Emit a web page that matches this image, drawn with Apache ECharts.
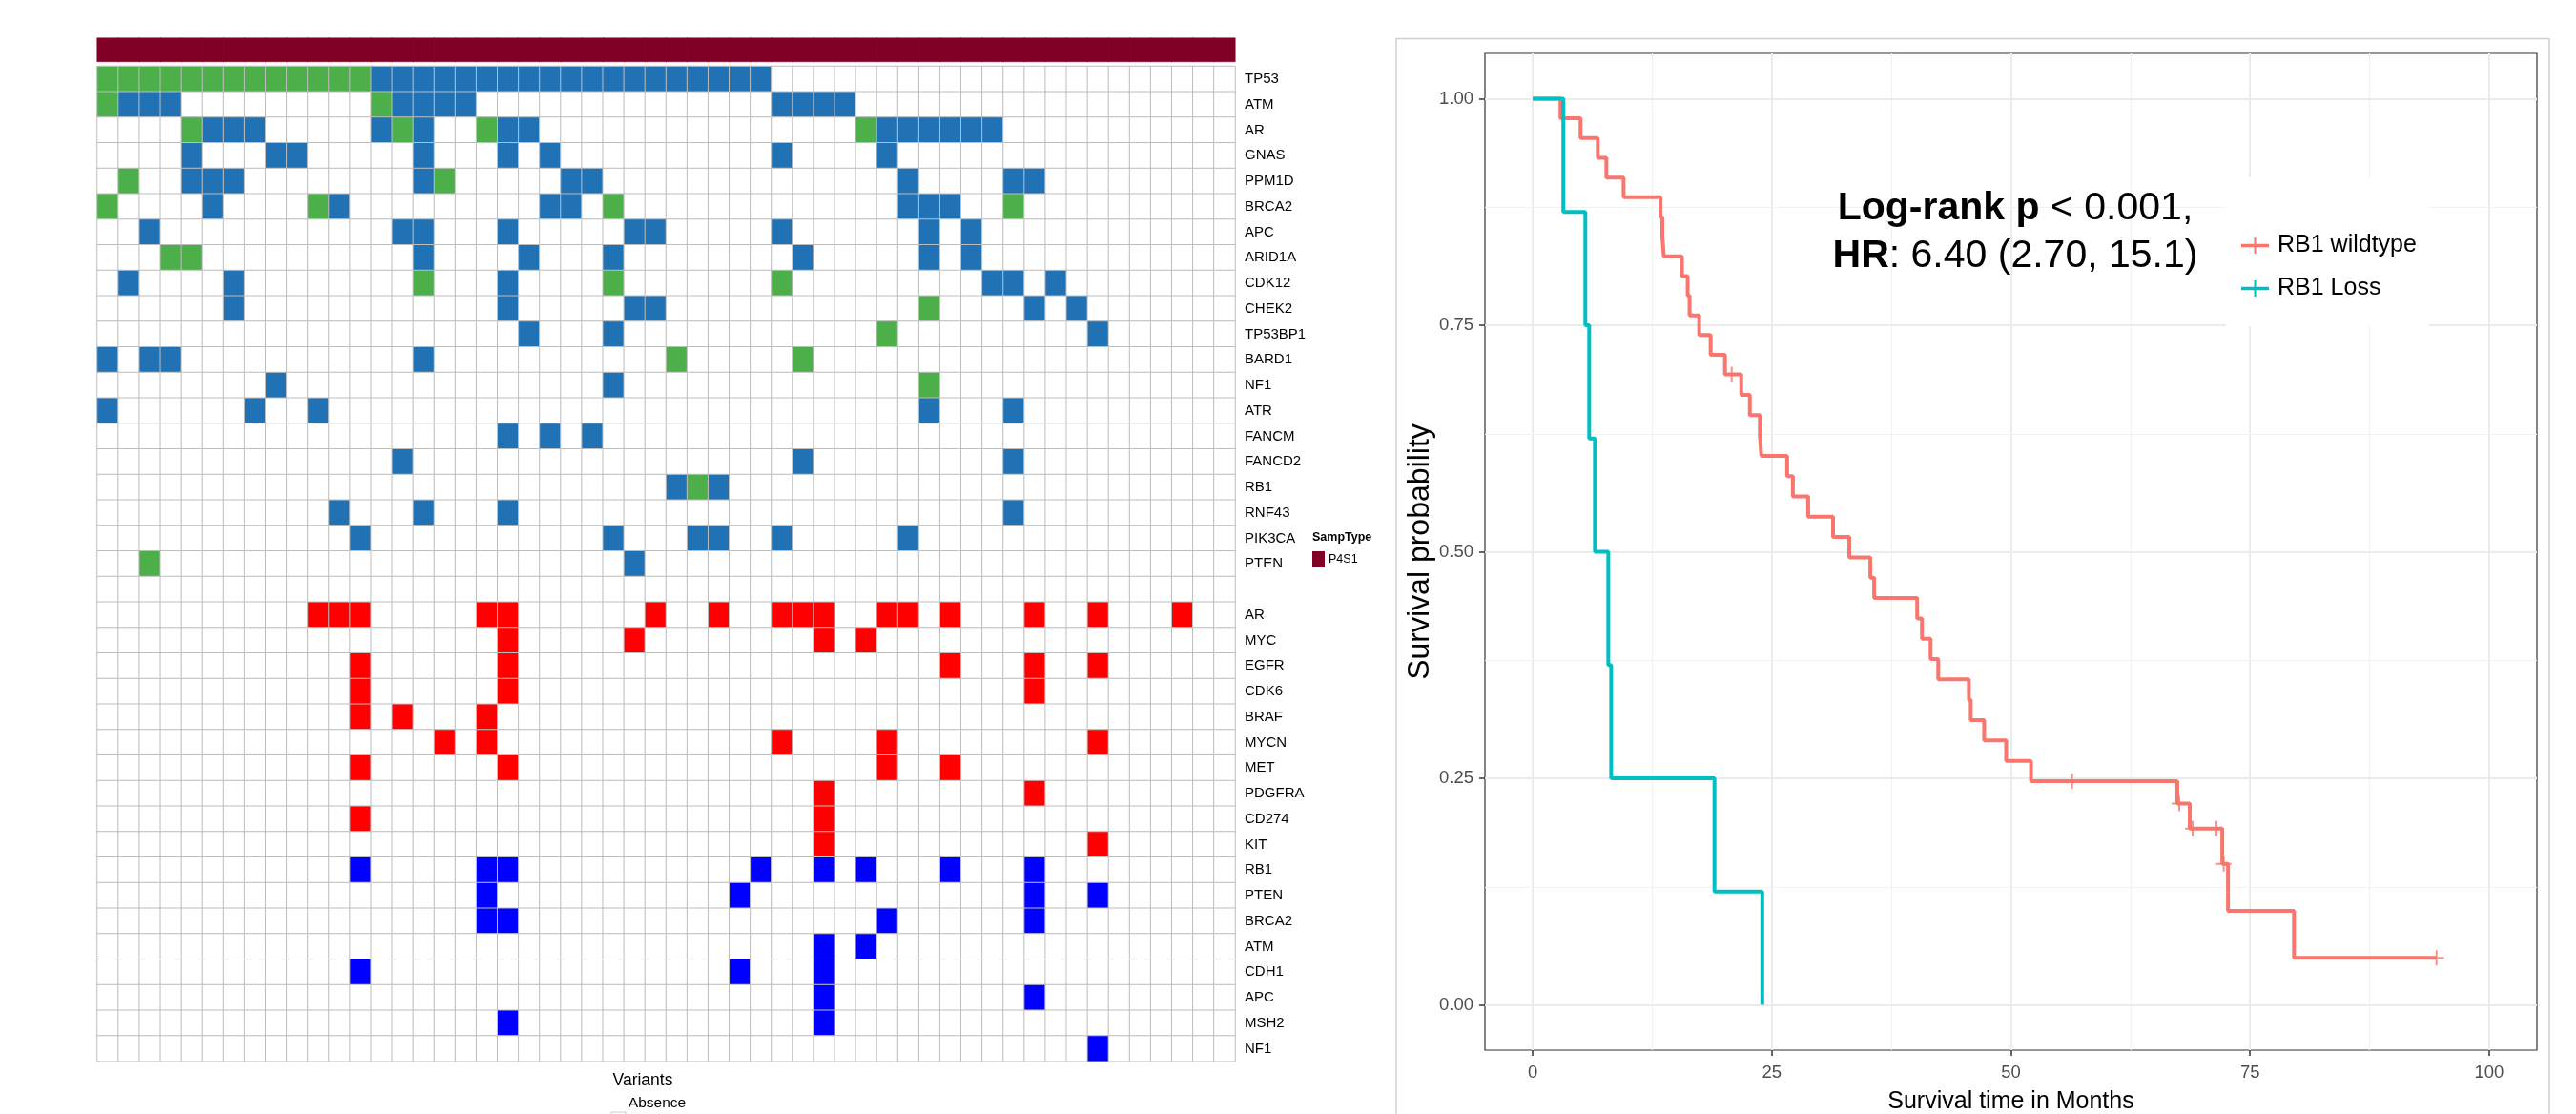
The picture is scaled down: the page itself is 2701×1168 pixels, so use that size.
<!DOCTYPE html>
<html><head><meta charset="utf-8">
<script src="https://cdn.jsdelivr.net/npm/echarts@6/dist/echarts.min.js"></script>
<style>html,body{margin:0;padding:0;background:#fff}#c{width:2701px;height:1168px}</style>
</head><body><div id="c"></div>
<script>
// ---------------- Oncoprint data ----------------
const sampleCount = 54;
const sampleIds = Array.from({length: sampleCount}, (_, i) => 'S' + (i + 1));
const sampType = 'P4S1';

const mutGenes = ['TP53','ATM','AR','GNAS','PPM1D','BRCA2','APC','ARID1A','CDK12','CHEK2','TP53BP1','BARD1','NF1','ATR','FANCM','FANCD2','RB1','RNF43','PIK3CA','PTEN'];
// columns with a "green" mutation call, one list per gene
const mutGreen = [
  [0,1,2,3,4,5,6,7,8,9,10,11,12],
  [0,13],
  [4,14,18,36],
  [],
  [1,16],
  [0,10,24,43],
  [],
  [3,4],
  [15,24,32],
  [39],
  [37],
  [27,33],
  [39],
  [],
  [],
  [],
  [28],
  [],
  [],
  [2]
];
// columns with a "blue" mutation call, one list per gene
const mutBlue = [
  [13,14,15,16,17,18,19,20,21,22,23,24,25,26,27,28,29,30,31],
  [1,2,3,14,15,16,17,32,33,34,35],
  [5,6,7,13,15,19,20,37,38,39,40,41,42],
  [4,8,9,15,19,21,32,37],
  [4,5,6,15,22,23,38,43,44],
  [5,11,21,22,38,39,40],
  [2,14,15,19,25,26,32,39,41],
  [15,20,24,33,39,41],
  [1,6,19,42,43,45],
  [6,19,25,26,44,46],
  [20,24,47],
  [0,2,3,15],
  [8,24],
  [0,7,10,39,43],
  [19,21,23],
  [14,33,43],
  [27,29],
  [11,15,19,43],
  [12,24,28,29,32,38],
  [25]
];

const cnvGenes = ['AR','MYC','EGFR','CDK6','BRAF','MYCN','MET','PDGFRA','CD274','KIT','RB1','PTEN','BRCA2','ATM','CDH1','APC','MSH2','NF1'];
// amplification (red) columns
const cnvAmp = [
  [10,11,12,18,19,26,29,32,33,34,37,38,40,44,47,51],
  [19,25,34,36],
  [12,19,40,44,47],
  [12,19,44],
  [12,14,18],
  [16,18,32,37,47],
  [12,19,37,40],
  [34,44],
  [12,34],
  [34,47],
  [],[],[],[],[],[],[],[]
];
// deletion (blue) columns
const cnvDel = [
  [],[],[],[],[],[],[],[],[],[],
  [12,18,19,31,34,36,40,44],
  [18,30,44,47],
  [18,19,37,44],
  [34,36],
  [12,30,34],
  [34,44],
  [19,34],
  [47]
];

// ---------------- Kaplan-Meier data ----------------
const wildTime = [0,2.9,5.0,6.8,7.7,9.5,13.35,13.55,13.7,15.6,16.2,16.4,17.4,18.6,20.1,21.8,22.7,23.75,23.9,26.6,27.2,28.8,31.4,33.1,35.3,35.7,40.2,40.7,41.6,42.4,45.6,45.8,47.2,49.5,52.1,67.4,68.7,72.1,72.7,79.6,94.5];
const wildSurv = [1,0.9783,0.9565,0.9348,0.9130,0.8913,0.8696,0.8478,0.8261,0.8043,0.7826,0.7609,0.7391,0.7174,0.6957,0.6732,0.6508,0.6284,0.6059,0.5835,0.5611,0.5386,0.5162,0.4937,0.4713,0.4489,0.4264,0.4040,0.3815,0.3591,0.3367,0.3142,0.2918,0.2693,0.2469,0.2222,0.1944,0.1556,0.1037,0.0519,0.0519];
const wildCensorTime = [20.8,56.4,67.6,69.0,71.5,72.25,94.5];
const wildCensorSurv = [0.6957,0.2469,0.2222,0.1944,0.1944,0.1556,0.0519];
const lossTime = [0,3.2,5.5,5.9,6.5,7.9,8.2,19.0,24.0];
const lossSurv = [1,0.875,0.75,0.625,0.5,0.375,0.25,0.125,0];

const kmXTicks = [0,25,50,75,100];
const kmXMinor = [12.5,37.5,62.5,87.5];
const kmYTicks = [0,0.25,0.5,0.75,1];
const kmYMinor = [0.125,0.375,0.625,0.875];

// ---------------- build ----------------
const rowLabels = mutGenes.concat([''], cnvGenes);
const codes = rowLabels.map(() => new Array(sampleCount).fill(0));
mutGreen.forEach((cols, i) => cols.forEach(c => { codes[i][c] = 1; }));
mutBlue.forEach((cols, i) => cols.forEach(c => { codes[i][c] = 2; }));
const off = mutGenes.length + 1;
cnvAmp.forEach((cols, i) => cols.forEach(c => { codes[off + i][c] = 3; }));
cnvDel.forEach((cols, i) => cols.forEach(c => { codes[off + i][c] = 4; }));
const heatData = [];
codes.forEach((row, r) => row.forEach((v, c) => heatData.push([c, r, v])));
const barData = sampleIds.map((s, i) => [i, 0, 1]);

const zip = (a, b) => a.map((v, i) => [v, b[i]]);

const SANS = "'Liberation Sans',Arial,Helvetica,sans-serif";
const RED = '#F8766D', TEAL = '#00BFC4', BAR = '#800026';
const PLUS_LEG = 'path://M0,6.8 L29,6.8 L29,10.2 L0,10.2 Z M13.5,0 L15.5,0 L15.5,17 L13.5,17 Z';
const PLUS_CEN = 'path://M7,0 L9,0 L9,16 L7,16 Z M0,7 L16,7 L16,9 L0,9 Z';

const gridLines = []
  .concat(kmXTicks.map(v => ({xAxis: v, lineStyle: {color: '#EBEBEB', width: 2, type: 'solid'}})))
  .concat(kmXMinor.map(v => ({xAxis: v, lineStyle: {color: '#F2F2F2', width: 1.2, type: 'solid'}})))
  .concat(kmYTicks.map(v => ({yAxis: v, lineStyle: {color: '#EBEBEB', width: 2, type: 'solid'}})))
  .concat(kmYMinor.map(v => ({yAxis: v, lineStyle: {color: '#F2F2F2', width: 1.2, type: 'solid'}})));

const chart = echarts.init(document.getElementById('c'));
chart.setOption({
  animation: false,
  backgroundColor: '#ffffff',
  grid: [
    {left: 102, top: 69.5, width: 1193, height: 1043.25, outerBoundsMode: 'none'},
    {left: 102, top: 40, width: 1193, height: 24.5, outerBoundsMode: 'none'},
    {left: 1557, top: 56, width: 1103, height: 1045, show: true, borderColor: '#333333', borderWidth: 1.2, backgroundColor: '#ffffff', outerBoundsMode: 'none'}
  ],
  xAxis: [
    {gridIndex: 0, type: 'category', data: sampleIds, show: false},
    {gridIndex: 1, type: 'category', data: sampleIds, show: false},
    {gridIndex: 2, type: 'value', min: -5, max: 105,
     name: 'Survival time in Months', nameLocation: 'middle', nameGap: 42,
     nameTextStyle: {fontFamily: SANS, fontSize: 25, color: '#000'},
     axisLine: {show: false, onZero: false},
     axisTick: {show: true, length: 6, lineStyle: {color: '#333333', width: 1.5}, customValues: kmXTicks},
     axisLabel: {customValues: kmXTicks, fontFamily: SANS, fontSize: 18.5, color: '#4D4D4D', margin: 14},
     splitLine: {show: false}}
  ],
  yAxis: [
    {gridIndex: 0, type: 'category', data: rowLabels, inverse: true, position: 'right',
     axisLine: {show: false}, axisTick: {show: false},
     axisLabel: {interval: 0, margin: 10, fontFamily: SANS, fontSize: 15, color: '#000'}},
    {gridIndex: 1, type: 'category', data: ['SampType'], show: false},
    {gridIndex: 2, type: 'value', min: -0.05, max: 1.05,
     name: 'Survival probability', nameLocation: 'middle', nameGap: 50,
     nameTextStyle: {fontFamily: SANS, fontSize: 32, color: '#000'},
     axisLine: {show: false, onZero: false},
     axisTick: {show: true, length: 6, lineStyle: {color: '#333333', width: 1.5}, customValues: kmYTicks},
     axisLabel: {customValues: kmYTicks, formatter: v => v.toFixed(2), fontFamily: SANS, fontSize: 18.5, color: '#4D4D4D', margin: 12},
     splitLine: {show: false}}
  ],
  visualMap: [
    {type: 'piecewise', show: false, seriesIndex: 0, dimension: 2,
     pieces: [{value: 0, color: '#FFFFFF'}, {value: 1, color: '#4DAF4A'}, {value: 2, color: '#2171B5'}, {value: 3, color: '#FF0000'}, {value: 4, color: '#0000FF'}]},
    {type: 'piecewise', show: false, seriesIndex: 1, dimension: 2,
     pieces: [{value: 1, color: BAR}]}
  ],
  legend: {
    left: 2334, top: 186, orient: 'vertical', selectedMode: false,
    padding: [59, 13, 27, 16], itemGap: 20, itemWidth: 29, itemHeight: 17,
    backgroundColor: '#ffffff',
    textStyle: {fontFamily: SANS, fontSize: 25, color: '#000', padding: [0, 0, 0, 4]},
    data: [{name: 'RB1 wildtype', icon: PLUS_LEG}, {name: 'RB1 Loss', icon: PLUS_LEG}]
  },
  series: [
    {type: 'heatmap', xAxisIndex: 0, yAxisIndex: 0, data: heatData, progressive: 0,
     itemStyle: {borderColor: '#BDBDBD', borderWidth: 1}, emphasis: {disabled: true}},
    {type: 'heatmap', name: sampType, xAxisIndex: 1, yAxisIndex: 1, data: barData, progressive: 0,
     itemStyle: {borderColor: BAR, borderWidth: 0.5}, emphasis: {disabled: true}},
    {type: 'line', name: 'gridlines', xAxisIndex: 2, yAxisIndex: 2, data: [], z: 1, silent: true,
     markLine: {silent: true, symbol: ['none', 'none'], z: 1, animation: false, label: {show: false}, emphasis: {disabled: true}, data: gridLines}},
    {type: 'line', name: 'RB1 wildtype', xAxisIndex: 2, yAxisIndex: 2, step: 'end', showSymbol: false, z: 3,
     color: RED, lineStyle: {color: RED, width: 4}, data: zip(wildTime, wildSurv)},
    {type: 'scatter', name: 'RB1 wildtype', xAxisIndex: 2, yAxisIndex: 2, z: 4, symbol: PLUS_CEN, symbolSize: [16, 16],
     itemStyle: {color: RED}, data: zip(wildCensorTime, wildCensorSurv)},
    {type: 'line', name: 'RB1 Loss', xAxisIndex: 2, yAxisIndex: 2, step: 'end', showSymbol: false, z: 5,
     color: TEAL, lineStyle: {color: TEAL, width: 4}, data: zip(lossTime, lossSurv)}
  ],
  graphic: [
    {type: 'rect', silent: true, z: -1, shape: {x: 1464, y: 40.5, width: 1209, height: 1200}, style: {fill: 'none', stroke: '#CFCFCF', lineWidth: 1.5}},
    {type: 'text', x: 1376, y: 564, style: {text: 'SampType', font: "bold 12.5px " + SANS, fill: '#000', align: 'left', verticalAlign: 'middle'}},
    {type: 'rect', shape: {x: 1376, y: 578, width: 13, height: 17}, style: {fill: BAR}},
    {type: 'text', x: 1393, y: 587, style: {text: sampType, font: "12.5px " + SANS, fill: '#000', align: 'left', verticalAlign: 'middle'}},
    {type: 'text', x: 674, y: 1133, style: {text: 'Variants', font: "17.5px " + SANS, fill: '#000', align: 'center', verticalAlign: 'middle'}},
    {type: 'text', x: 689, y: 1157, style: {text: 'Absence', font: "15.5px " + SANS, fill: '#000', align: 'center', verticalAlign: 'middle'}},
    {type: 'rect', shape: {x: 641, y: 1166, width: 15, height: 15}, style: {fill: '#fff', stroke: '#CCCCCC', lineWidth: 1}},
    {type: 'text', x: 2113, y: 244, z: 10, style: {
      text: '{b|Log-rank p}{r| < 0.001,}\n{b|HR}{r|: 6.40 (2.70, 15.1)}',
      align: 'center', verticalAlign: 'middle', fill: '#000',
      rich: {
        b: {fontWeight: 'bold', fontSize: 41, fontFamily: SANS, lineHeight: 50, fill: '#000'},
        r: {fontSize: 41, fontFamily: SANS, lineHeight: 50, fill: '#000'}
      }}}
  ]
});
</script>
</body></html>
